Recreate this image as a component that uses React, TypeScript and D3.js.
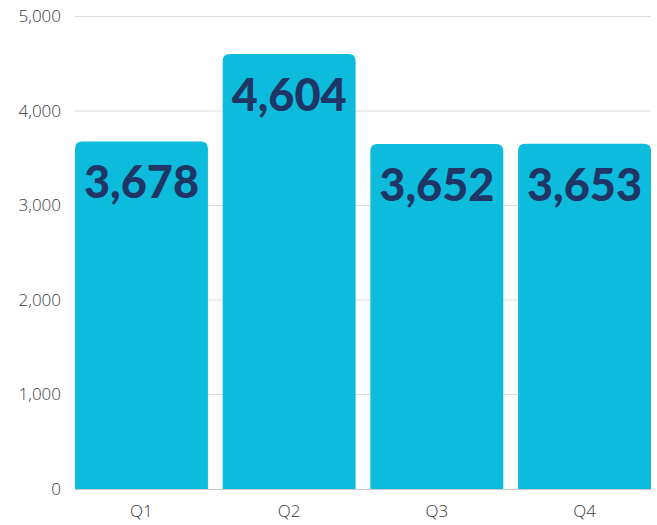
import React from "react";
import * as d3 from "d3";

const quarters = ["Q1", "Q2", "Q3", "Q4"];
const values = [3678, 4604, 3652, 3653];
const yTicks = [0, 1000, 2000, 3000, 4000, 5000];

const W = 657;
const H = 525;
const margin = { top: 16.5, right: 6, bottom: 36, left: 75 };

function topRoundedRect(x: number, y: number, w: number, h: number, r: number) {
  const rr = Math.min(r, h, w / 2);
  return `M${x},${y + h}V${y + rr}Q${x},${y} ${x + rr},${y}H${x + w - rr}Q${x + w},${y} ${x + w},${y + rr}V${y + h}Z`;
}

export default function App() {
  const x = d3
    .scaleBand<string>()
    .domain(quarters)
    .range([margin.left, W - margin.right])
    .paddingInner(0.1)
    .paddingOuter(0);
  const y = d3
    .scaleLinear()
    .domain([0, 5000])
    .range([H - margin.bottom, margin.top]);
  const fmt = d3.format(",");

  return (
    <svg
      width={W}
      height={H}
      style={{ position: "absolute", left: 0, top: 0 }}
      fontFamily="'Open Sans', sans-serif"
    >
      {yTicks.map((t) => (
        <g key={t}>
          {t > 0 && (
            <line
              x1={margin.left}
              x2={W - margin.right}
              y1={y(t)}
              y2={y(t)}
              stroke="#dcdcdc"
              strokeWidth={1}
            />
          )}
          <text
            x={61}
            y={y(t)}
            dy="0.35em"
            textAnchor="end"
            fontSize={17}
            fontWeight={300}
            fill="#3a3a3a"
          >
            {fmt(t)}
          </text>
        </g>
      ))}
      {quarters.map((q, i) => {
        const bx = x(q)!;
        const by = y(values[i]);
        return (
          <g key={q}>
            <path
              d={topRoundedRect(bx, by, x.bandwidth(), y(0) - by, 7)}
              fill="#0dbcdc"
            />
            <text
              x={bx + x.bandwidth() / 2}
              y={by + 57}
              textAnchor="middle"
              fontFamily="Lato, sans-serif"
              fontWeight={900}
              fontSize={45}
              fill="#1f3566"
            >
              {fmt(values[i])}
            </text>
            <text
              x={bx + x.bandwidth() / 2}
              y={511}
              dy="0.35em"
              textAnchor="middle"
              fontSize={17}
              fontWeight={300}
              fill="#3a3a3a"
            >
              {q}
            </text>
          </g>
        );
      })}
      <line
        x1={margin.left}
        x2={W - margin.right}
        y1={y(0) + 0.5}
        y2={y(0) + 0.5}
        stroke="#c8c8c8"
        strokeWidth={1}
      />
    </svg>
  );
}
